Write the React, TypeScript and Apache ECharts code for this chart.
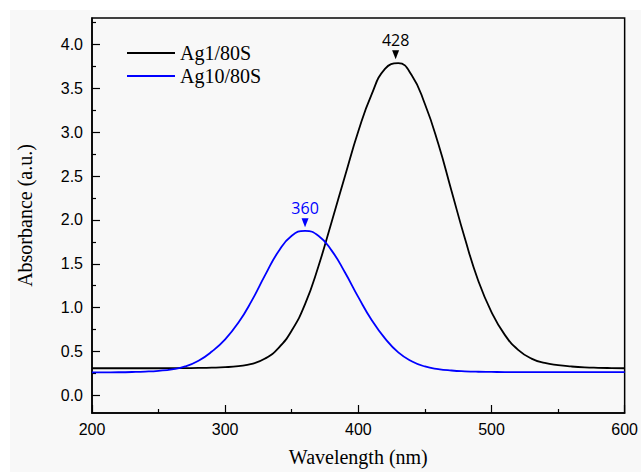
import React, { useEffect, useRef } from "react";
import * as echarts from "echarts";

const wavelengths = [
  200, 210, 220, 230, 240, 250, 260, 270, 280, 290,
  300, 310, 320, 330, 340, 350, 360, 370, 380, 390,
  400, 410, 420, 430, 440, 450, 460, 470, 480, 490,
  500, 510, 520, 530, 540, 550, 560, 570, 580, 590, 600,
];

const ag1Values = [
  0.310, 0.310, 0.310, 0.310, 0.310, 0.310, 0.311, 0.312, 0.313, 0.316,
  0.322, 0.335, 0.36, 0.42, 0.54, 0.74, 1.04, 1.47, 1.98, 2.50,
  3.01, 3.43, 3.72, 3.785, 3.65, 3.32, 2.87, 2.33, 1.79, 1.31,
  0.95, 0.69, 0.52, 0.42, 0.37, 0.345, 0.33, 0.32, 0.315, 0.312, 0.31,
];

const ag10Values = [
  0.262, 0.263, 0.264, 0.267, 0.272, 0.281, 0.297, 0.33, 0.395, 0.50,
  0.64, 0.83, 1.08, 1.37, 1.64, 1.82, 1.875, 1.82, 1.65, 1.40,
  1.12, 0.86, 0.65, 0.49, 0.39, 0.33, 0.30, 0.284, 0.275, 0.27,
  0.268, 0.266, 0.266, 0.266, 0.266, 0.266, 0.266, 0.266, 0.266, 0.266, 0.266,
];

const seriesNames = ["Ag1/80S", "Ag10/80S"];
const seriesColors = ["#000000", "#0000ff"];
const peakWavelengths = [428, 360];
const peakValues = [3.79, 1.875];

const yMajorTicks = [0, 0.5, 1, 1.5, 2, 2.5, 3, 3.5, 4];
const yMinorTicks = [0.25, 0.75, 1.25, 1.75, 2.25, 2.75, 3.25, 3.75, 4.25];

export default function App() {
  const ref = useRef<HTMLDivElement>(null);

  useEffect(() => {
    if (!ref.current) return;
    const chart = echarts.init(ref.current, undefined, { renderer: "svg" });
    const seriesData = [ag1Values, ag10Values];

    const option: any = {
      animation: false,
      backgroundColor: "#ffffff",
      graphic: {
        elements: [
          {
            type: "rect",
            z: -10,
            silent: true,
            shape: { x: 10, y: 10, width: 631, height: 462 },
            style: { fill: "#f8f8f8" },
          },
        ],
      },
      grid: {
        left: 92,
        right: 13,
        top: 18,
        bottom: 59,
        show: true,
        borderColor: "#000",
        borderWidth: 1.5,
        backgroundColor: "transparent",
      },
      legend: {
        orient: "vertical",
        left: 122,
        top: 38,
        itemGap: 3,
        itemWidth: 48,
        itemHeight: 2,
        icon: "rect",
        data: seriesNames,
        textStyle: {
          fontFamily: "Liberation Serif",
          fontSize: 20,
          color: "#000",
        },
      },
      xAxis: {
        type: "value",
        min: 200,
        max: 600,
        interval: 100,
        name: "Wavelength (nm)",
        nameLocation: "middle",
        nameGap: 34,
        nameTextStyle: { fontFamily: "Liberation Serif", fontSize: 20, color: "#000" },
        axisLine: { show: true, onZero: false, lineStyle: { color: "#000", width: 1.5 } },
        axisTick: { show: true, inside: true, length: 8, lineStyle: { color: "#000", width: 1.2 } },
        minorTick: { show: true, splitNumber: 2, length: 4, lineStyle: { color: "#000", width: 1.2 } },
        axisLabel: { margin: 8, fontFamily: "Liberation Sans", fontSize: 16, color: "#000" },
        splitLine: { show: false },
      },
      yAxis: [
        {
          type: "value",
          min: -0.2,
          max: 4.3,
          name: "Absorbance (a.u.)",
          nameLocation: "middle",
          nameGap: 57,
          nameTextStyle: { fontFamily: "Liberation Serif", fontSize: 20, color: "#000" },
          axisLine: { show: true, onZero: false, lineStyle: { color: "#000", width: 1.5 } },
          axisTick: {
            show: true,
            inside: true,
            length: 8,
            customValues: yMajorTicks,
            lineStyle: { color: "#000", width: 1.2 },
          },
          axisLabel: {
            margin: 9,
            customValues: yMajorTicks,
            formatter: (v: number) => v.toFixed(1),
            fontFamily: "Liberation Sans",
            fontSize: 16,
            color: "#000",
          },
          splitLine: { show: false },
        },
        {
          type: "value",
          min: -0.2,
          max: 4.3,
          position: "left",
          axisLine: { show: false, onZero: false },
          axisTick: {
            show: true,
            inside: true,
            length: 4,
            customValues: yMinorTicks,
            lineStyle: { color: "#000", width: 1.2 },
          },
          axisLabel: { show: false },
          splitLine: { show: false },
        },
      ],
      series: seriesNames.map((name, i) => ({
        name,
        type: "line",
        yAxisIndex: 0,
        smooth: 0.5,
        symbol: "none",
        lineStyle: { color: seriesColors[i], width: 1.8 },
        itemStyle: { color: seriesColors[i] },
        data: wavelengths.map((w, j) => [w, seriesData[i][j]]),
        markPoint: {
          symbol: "triangle",
          symbolRotate: 180,
          symbolSize: [7, 9],
          symbolOffset: [0, -8],
          itemStyle: { color: seriesColors[i] },
          label: {
            show: true,
            position: "top",
            distance: 2,
            formatter: String(peakWavelengths[i]),
            fontFamily: "Open Sans",
            fontSize: 16,
            color: seriesColors[i],
          },
          data: [{ coord: [peakWavelengths[i], peakValues[i]] }],
        },
      })),
    };

    chart.setOption(option);
    return () => chart.dispose();
  }, []);

  return (
    <div
      ref={ref}
      style={{ position: "absolute", left: 0, top: 0, width: 641, height: 472 }}
    />
  );
}
